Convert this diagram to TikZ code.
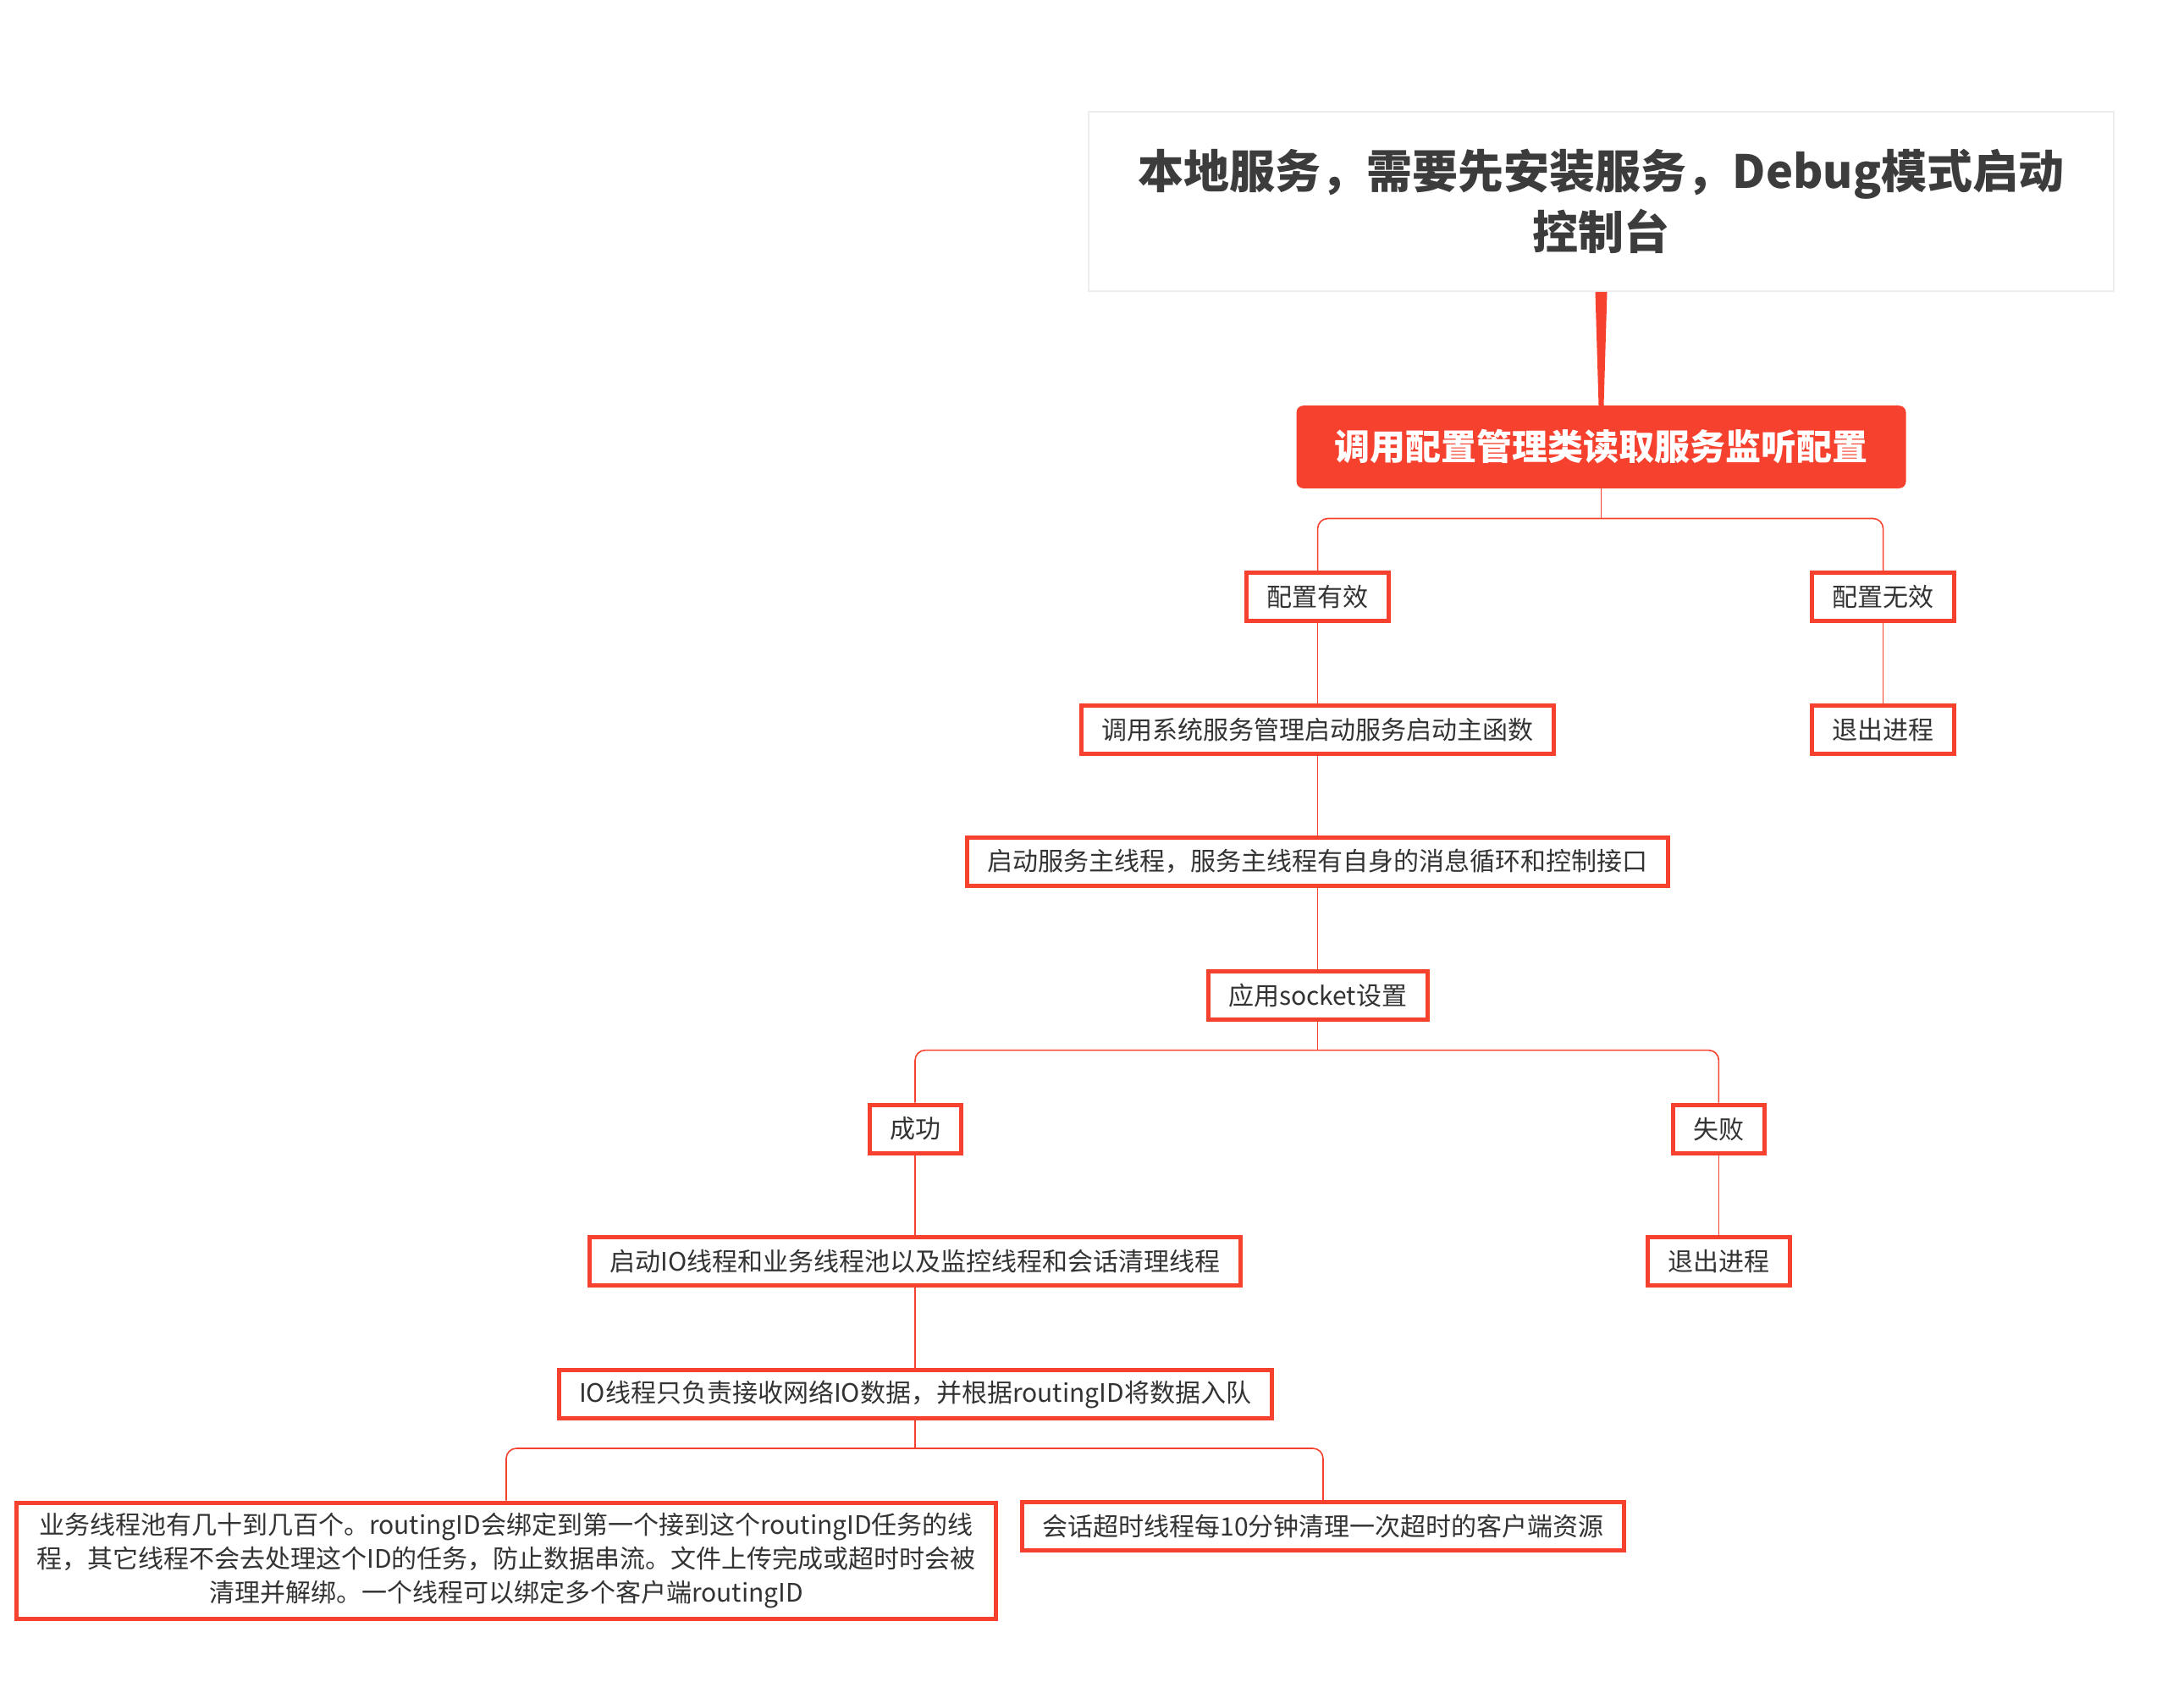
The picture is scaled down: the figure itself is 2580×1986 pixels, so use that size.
\documentclass[tikz,border=0pt]{standalone}
\usepackage{fontspec}
\setmainfont{Noto Sans CJK SC}
\usetikzlibrary{calc}
\definecolor{xred}{HTML}{F5412E}
\definecolor{txt}{HTML}{333333}
\definecolor{titlec}{HTML}{3C3C3C}
\tikzset{
  box/.style={draw=xred, line width=2.5pt, fill=white, text=txt,
    font=\fontsize{15}{20}\selectfont, minimum height=28.5pt, inner xsep=12pt, inner ysep=4pt},
  conn/.style={draw=xred, line width=0.8pt},
  br/.style={conn, rounded corners=6pt}
}
\begin{document}
\begin{tikzpicture}[x=0.5pt,y=-0.5pt]
\useasboundingbox (0,0) rectangle (2580,1986);
\node[draw=black!7, line width=0.8pt, fill=white, minimum width=605.5pt, minimum height=106pt,
  font=\fontsize{27}{36}\selectfont\bfseries, text=titlec, align=center] (title) at (1891.5,238)
  {本地服务，需要先安装服务，Debug模式启动\\控制台};
\node[fill=xred, rounded corners=4pt, minimum width=360pt, minimum height=48.8pt,
  font=\fontsize{21}{26}\selectfont\bfseries, text=white] (main) at (1891.5,528) {调用配置管理类读取服务监听配置};
\fill[xred] ($(title.south)+(-7,0)$) -- ($(title.south)+(7,0)$) -- ($(main.north)+(3,0)$) -- ($(main.north)+(-3,0)$) -- cycle;

\node[box] (v1) at (1556.6,705) {配置有效};
\node[box] (v2) at (2224.6,705) {配置无效};
\node[box] (a1) at (1556.6,862) {调用系统服务管理启动服务启动主函数};
\node[box] (a2) at (2224.6,862) {退出进程};
\node[box] (b) at (1556.6,1017.7) {启动服务主线程，服务主线程有自身的消息循环和控制接口};
\node[box] (c) at (1556.6,1175.6) {应用socket设置};
\node[box] (s) at (1081,1333.6) {成功};
\node[box] (f) at (2030.4,1333.6) {失败};
\node[box] (d) at (1081,1490) {启动IO线程和业务线程池以及监控线程和会话清理线程};
\node[box] (f2) at (2030.4,1490) {退出进程};
\node[box] (e) at (1081,1647) {IO线程只负责接收网络IO数据，并根据routingID将数据入队};
\node[box, align=center, minimum height=68.5pt] (g) at (598,1843.5)
  {业务线程池有几十到几百个。routingID会绑定到第一个接到这个routingID任务的线\\
   程，其它线程不会去处理这个ID的任务，防止数据串流。文件上传完成或超时时会被\\
   清理并解绑。一个线程可以绑定多个客户端routingID};
\node[box] (h) at (1563,1803.4) {会话超时线程每10分钟清理一次超时的客户端资源};

\coordinate (j1) at (1891.5,612.5);
\coordinate (j2) at (1556.6,1240.6);
\coordinate (j3) at (1081,1711);

\draw[conn] (main.south) -- (j1);
\draw[br] (j1) -| (v1.north);
\draw[br] (j1) -| (v2.north);
\draw[conn] (v1) -- (a1);
\draw[conn] (a1) -- (b);
\draw[conn] (b) -- (c);
\draw[conn] (v2) -- (a2);
\draw[conn] (c.south) -- (j2);
\draw[br] (j2) -| (s.north);
\draw[br] (j2) -| (f.north);
\draw[conn] (s) -- (d);
\draw[conn] (d) -- (e);
\draw[conn] (f) -- (f2);
\draw[conn] (e.south) -- (j3);
\draw[br] (j3) -| (g.north);
\draw[br] (j3) -| (h.north);
\end{tikzpicture}
\end{document}
